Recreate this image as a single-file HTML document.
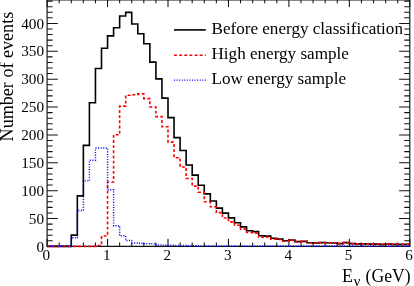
<!DOCTYPE html>
<html><head><meta charset="utf-8"><title>chart</title>
<style>
html,body{margin:0;padding:0;background:#fff;}
body{width:414px;height:286px;overflow:hidden;font-family:"Liberation Serif",serif;}
svg{display:block;will-change:transform;}
text{font-family:"Liberation Serif",serif;fill:#000;}
</style></head><body>
<svg width="414" height="286" viewBox="0 0 414 286">
<rect x="0" y="0" width="414" height="286" fill="#ffffff"/>
<path d="M47.1,0.0 L409.8,0.0 L409.8,246.4 L47.1,246.4 Z" stroke="#111" stroke-width="1.15" fill="none"/>
<path d="M47.10,246.4 v-7.6 M47.10,0.0 v7.0 M59.19,246.4 v-3.9 M59.19,0.0 v3.3 M71.28,246.4 v-3.9 M71.28,0.0 v3.3 M83.37,246.4 v-3.9 M83.37,0.0 v3.3 M95.46,246.4 v-3.9 M95.46,0.0 v3.3 M107.55,246.4 v-7.6 M107.55,0.0 v7.0 M119.64,246.4 v-3.9 M119.64,0.0 v3.3 M131.73,246.4 v-3.9 M131.73,0.0 v3.3 M143.82,246.4 v-3.9 M143.82,0.0 v3.3 M155.91,246.4 v-3.9 M155.91,0.0 v3.3 M168.00,246.4 v-7.6 M168.00,0.0 v7.0 M180.09,246.4 v-3.9 M180.09,0.0 v3.3 M192.18,246.4 v-3.9 M192.18,0.0 v3.3 M204.27,246.4 v-3.9 M204.27,0.0 v3.3 M216.36,246.4 v-3.9 M216.36,0.0 v3.3 M228.45,246.4 v-7.6 M228.45,0.0 v7.0 M240.54,246.4 v-3.9 M240.54,0.0 v3.3 M252.63,246.4 v-3.9 M252.63,0.0 v3.3 M264.72,246.4 v-3.9 M264.72,0.0 v3.3 M276.81,246.4 v-3.9 M276.81,0.0 v3.3 M288.90,246.4 v-7.6 M288.90,0.0 v7.0 M300.99,246.4 v-3.9 M300.99,0.0 v3.3 M313.08,246.4 v-3.9 M313.08,0.0 v3.3 M325.17,246.4 v-3.9 M325.17,0.0 v3.3 M337.26,246.4 v-3.9 M337.26,0.0 v3.3 M349.35,246.4 v-7.6 M349.35,0.0 v7.0 M361.44,246.4 v-3.9 M361.44,0.0 v3.3 M373.53,246.4 v-3.9 M373.53,0.0 v3.3 M385.62,246.4 v-3.9 M385.62,0.0 v3.3 M397.71,246.4 v-3.9 M397.71,0.0 v3.3 M409.80,246.4 v-7.6 M409.80,0.0 v7.0 M47.1,246.40 h10.7 M409.8,246.40 h-10.7 M47.1,240.83 h5.5 M409.8,240.83 h-5.5 M47.1,235.25 h5.5 M409.8,235.25 h-5.5 M47.1,229.68 h5.5 M409.8,229.68 h-5.5 M47.1,224.10 h5.5 M409.8,224.10 h-5.5 M47.1,218.53 h10.7 M409.8,218.53 h-10.7 M47.1,212.95 h5.5 M409.8,212.95 h-5.5 M47.1,207.38 h5.5 M409.8,207.38 h-5.5 M47.1,201.80 h5.5 M409.8,201.80 h-5.5 M47.1,196.23 h5.5 M409.8,196.23 h-5.5 M47.1,190.65 h10.7 M409.8,190.65 h-10.7 M47.1,185.07 h5.5 M409.8,185.07 h-5.5 M47.1,179.50 h5.5 M409.8,179.50 h-5.5 M47.1,173.93 h5.5 M409.8,173.93 h-5.5 M47.1,168.35 h5.5 M409.8,168.35 h-5.5 M47.1,162.78 h10.7 M409.8,162.78 h-10.7 M47.1,157.20 h5.5 M409.8,157.20 h-5.5 M47.1,151.62 h5.5 M409.8,151.62 h-5.5 M47.1,146.05 h5.5 M409.8,146.05 h-5.5 M47.1,140.48 h5.5 M409.8,140.48 h-5.5 M47.1,134.90 h10.7 M409.8,134.90 h-10.7 M47.1,129.32 h5.5 M409.8,129.32 h-5.5 M47.1,123.75 h5.5 M409.8,123.75 h-5.5 M47.1,118.18 h5.5 M409.8,118.18 h-5.5 M47.1,112.60 h5.5 M409.8,112.60 h-5.5 M47.1,107.03 h10.7 M409.8,107.03 h-10.7 M47.1,101.45 h5.5 M409.8,101.45 h-5.5 M47.1,95.88 h5.5 M409.8,95.88 h-5.5 M47.1,90.30 h5.5 M409.8,90.30 h-5.5 M47.1,84.72 h5.5 M409.8,84.72 h-5.5 M47.1,79.15 h10.7 M409.8,79.15 h-10.7 M47.1,73.58 h5.5 M409.8,73.58 h-5.5 M47.1,68.00 h5.5 M409.8,68.00 h-5.5 M47.1,62.43 h5.5 M409.8,62.43 h-5.5 M47.1,56.85 h5.5 M409.8,56.85 h-5.5 M47.1,51.28 h10.7 M409.8,51.28 h-10.7 M47.1,45.70 h5.5 M409.8,45.70 h-5.5 M47.1,40.12 h5.5 M409.8,40.12 h-5.5 M47.1,34.55 h5.5 M409.8,34.55 h-5.5 M47.1,28.97 h5.5 M409.8,28.97 h-5.5 M47.1,23.40 h10.7 M409.8,23.40 h-10.7 M47.1,17.83 h5.5 M409.8,17.83 h-5.5 M47.1,12.25 h5.5 M409.8,12.25 h-5.5 M47.1,6.68 h5.5 M409.8,6.68 h-5.5 M47.1,1.10 h5.5 M409.8,1.10 h-5.5" stroke="#111" stroke-width="1.05" fill="none"/>
<path d="M47.10,246.40 L53.15,246.40 L59.19,246.40 L65.23,246.40 L71.28,246.40 L71.28,235.17 L77.33,235.17 L77.33,195.92 L83.37,195.92 L83.37,145.35 L89.41,145.35 L89.41,102.81 L95.46,102.81 L95.46,68.53 L101.50,68.53 L101.50,48.18 L107.55,48.18 L107.55,35.92 L113.59,35.92 L113.59,27.78 L119.64,27.78 L119.64,16.01 L125.69,16.01 L125.69,12.33 L131.73,12.33 L131.73,24.04 L137.78,24.04 L137.78,33.69 L143.82,33.69 L143.82,43.72 L149.86,43.72 L149.86,62.12 L155.91,62.12 L155.91,78.84 L161.95,78.84 L161.95,98.08 L168.00,98.08 L168.00,117.59 L174.04,117.59 L174.04,137.60 L180.09,137.60 L180.09,150.43 L186.13,150.43 L186.13,165.03 L192.18,165.03 L192.18,175.12 L198.22,175.12 L198.22,185.32 L204.27,185.32 L204.27,193.85 L210.31,193.85 L210.31,200.94 L216.36,200.94 L216.36,208.13 L222.40,208.13 L222.40,213.14 L228.45,213.14 L228.45,217.83 L234.49,217.83 L234.49,222.68 L240.54,222.68 L240.54,226.91 L246.58,226.91 L246.58,230.76 L252.63,230.76 L252.63,231.60 L258.68,231.60 L258.68,235.78 L264.72,235.78 L264.72,236.11 L270.76,236.11 L270.76,238.29 L276.81,238.29 L276.81,239.12 L282.85,239.12 L282.85,240.80 L288.90,240.80 L288.90,239.96 L294.94,239.96 L294.94,241.63 L300.99,241.63 L300.99,241.41 L307.03,241.41 L307.03,242.75 L313.08,242.75 L313.08,243.03 L319.12,243.03 L319.12,242.58 L325.17,242.58 L325.17,242.75 L331.22,242.75 L331.22,242.97 L337.26,242.97 L337.26,243.58 L343.31,243.58 L343.31,242.58 L349.35,242.58 L349.35,243.58 L355.39,243.58 L355.39,243.86 L361.44,243.86 L367.49,243.86 L367.49,244.14 L373.53,244.14 L379.57,244.14 L379.57,244.42 L385.62,244.42 L385.62,244.14 L391.67,244.14 L391.67,244.42 L397.71,244.42 L403.75,244.42 L409.80,244.42" fill="none" stroke="#000" stroke-width="1.6" stroke-linejoin="miter"/>
<path d="M47.10,246.40 L53.15,246.40 L59.19,246.40 L65.23,246.40 L71.28,246.40 L77.33,246.40 L83.37,246.40 L89.41,246.40 L95.46,246.40 L95.46,245.53 L101.50,245.53 L101.50,236.06 L107.55,236.06 L107.55,181.98 L113.59,181.98 L113.59,134.76 L119.64,134.76 L119.64,106.16 L125.69,106.16 L125.69,95.23 L131.73,95.23 L131.73,94.73 L137.78,94.73 L137.78,93.90 L143.82,93.90 L143.82,98.58 L149.86,98.58 L149.86,106.94 L155.91,106.94 L155.91,116.59 L161.95,116.59 L161.95,126.68 L168.00,126.68 L168.00,142.17 L174.04,142.17 L174.04,157.78 L180.09,157.78 L180.09,167.04 L186.13,167.04 L186.13,178.47 L192.18,178.47 L192.18,186.11 L198.22,186.11 L198.22,192.18 L204.27,192.18 L204.27,201.77 L210.31,201.77 L210.31,206.79 L216.36,206.79 L216.36,212.64 L222.40,212.64 L222.40,217.99 L228.45,217.99 L228.45,221.90 L234.49,221.90 L234.49,225.24 L240.54,225.24 L240.54,229.09 L246.58,229.09 L246.58,232.43 L252.63,232.43 L252.63,233.10 L258.68,233.10 L258.68,237.28 L264.72,237.28 L264.72,236.95 L270.76,236.95 L270.76,239.12 L276.81,239.12 L276.81,239.46 L282.85,239.46 L282.85,241.19 L288.90,241.19 L288.90,239.96 L294.94,239.96 L294.94,241.63 L300.99,241.63 L300.99,241.41 L307.03,241.41 L307.03,242.75 L313.08,242.75 L313.08,243.03 L319.12,243.03 L319.12,242.58 L325.17,242.58 L325.17,242.75 L331.22,242.75 L331.22,242.97 L337.26,242.97 L337.26,243.58 L343.31,243.58 L343.31,242.58 L349.35,242.58 L349.35,243.58 L355.39,243.58 L355.39,243.86 L361.44,243.86 L367.49,243.86 L367.49,244.14 L373.53,244.14 L379.57,244.14 L379.57,244.42 L385.62,244.42 L385.62,244.14 L391.67,244.14 L391.67,244.42 L397.71,244.42 L403.75,244.42 L409.80,244.42" fill="none" stroke="#ff0000" stroke-width="1.6" stroke-dasharray="2.9 2.25"/>
<path d="M47.10,246.07 L53.15,246.07 L59.19,246.07 L65.23,246.07 L71.28,246.07 L71.28,237.73 L77.33,237.73 L77.33,210.41 L83.37,210.41 L83.37,180.87 L89.41,180.87 L89.41,160.24 L95.46,160.24 L95.46,147.97 L101.50,147.97 L107.55,147.97 L107.55,189.78 L113.59,189.78 L113.59,225.69 L119.64,225.69 L119.64,235.78 L125.69,235.78 L125.69,240.46 L131.73,240.46 L131.73,242.97 L137.78,242.97 L137.78,243.31 L143.82,243.31 L143.82,243.64 L149.86,243.64 L149.86,243.86 L155.91,243.86 L155.91,244.98 L161.95,244.98 L161.95,245.20 L168.00,245.20 L168.00,245.31 L174.04,245.31 L174.04,245.53 L180.09,245.53 L186.13,245.53 L186.13,245.81 L192.18,245.81 L198.22,245.81 L198.22,246.07 L204.27,246.07 L210.31,246.07 L216.36,246.07 L222.40,246.07 L228.45,246.07 L234.49,246.07 L240.54,246.07 L246.58,246.07 L252.63,246.07 L258.68,246.07 L264.72,246.07 L270.76,246.07 L276.81,246.07 L282.85,246.07 L288.90,246.07 L294.94,246.07 L300.99,246.07 L307.03,246.07 L313.08,246.07 L319.12,246.07 L325.17,246.07 L331.22,246.07 L337.26,246.07 L343.31,246.07 L349.35,246.07 L355.39,246.07 L361.44,246.07 L367.49,246.07 L373.53,246.07 L379.57,246.07 L385.62,246.07 L391.67,246.07 L397.71,246.07 L403.75,246.07 L409.80,246.07" fill="none" stroke="#0000ff" stroke-width="1.45" stroke-dasharray="1.05 1.52"/>
<text x="44" y="251.60" font-size="15.2" text-anchor="end">0</text>
<text x="44" y="223.72" font-size="15.2" text-anchor="end">50</text>
<text x="44" y="195.85" font-size="15.2" text-anchor="end">100</text>
<text x="44" y="167.97" font-size="15.2" text-anchor="end">150</text>
<text x="44" y="140.10" font-size="15.2" text-anchor="end">200</text>
<text x="44" y="112.23" font-size="15.2" text-anchor="end">250</text>
<text x="44" y="84.35" font-size="15.2" text-anchor="end">300</text>
<text x="44" y="56.48" font-size="15.2" text-anchor="end">350</text>
<text x="44" y="28.60" font-size="15.2" text-anchor="end">400</text>
<text x="46.40" y="260.2" font-size="15.2" text-anchor="middle">0</text>
<text x="106.85" y="260.2" font-size="15.2" text-anchor="middle">1</text>
<text x="167.30" y="260.2" font-size="15.2" text-anchor="middle">2</text>
<text x="227.75" y="260.2" font-size="15.2" text-anchor="middle">3</text>
<text x="288.20" y="260.2" font-size="15.2" text-anchor="middle">4</text>
<text x="348.65" y="260.2" font-size="15.2" text-anchor="middle">5</text>
<text x="409.10" y="260.2" font-size="15.2" text-anchor="middle">6</text>
<text transform="translate(13.3,141.4) rotate(-90)" font-size="18.1">Number of events</text>
<text x="341.9" y="282.1" font-size="17.9">E</text>
<text x="353.8" y="286.4" font-size="14.5">ν</text>
<text x="365.6" y="282.1" font-size="17.9" textLength="45" lengthAdjust="spacingAndGlyphs">(GeV)</text>
<path d="M174,29.9 H205.8" stroke="#000" stroke-width="1.6" fill="none"/>
<path d="M174,55.2 H205.8" stroke="#ff0000" stroke-width="1.6" stroke-dasharray="2.9 2.25" fill="none"/>
<path d="M174,80.1 H205.8" stroke="#0000ff" stroke-width="1.45" stroke-dasharray="1.05 1.52" fill="none"/>
<text x="211.5" y="33.8" font-size="17.1">Before energy classification</text>
<text x="211.5" y="59" font-size="17.1">High energy sample</text>
<text x="211.5" y="84.3" font-size="17.1">Low energy sample</text>
</svg>
</body></html>
